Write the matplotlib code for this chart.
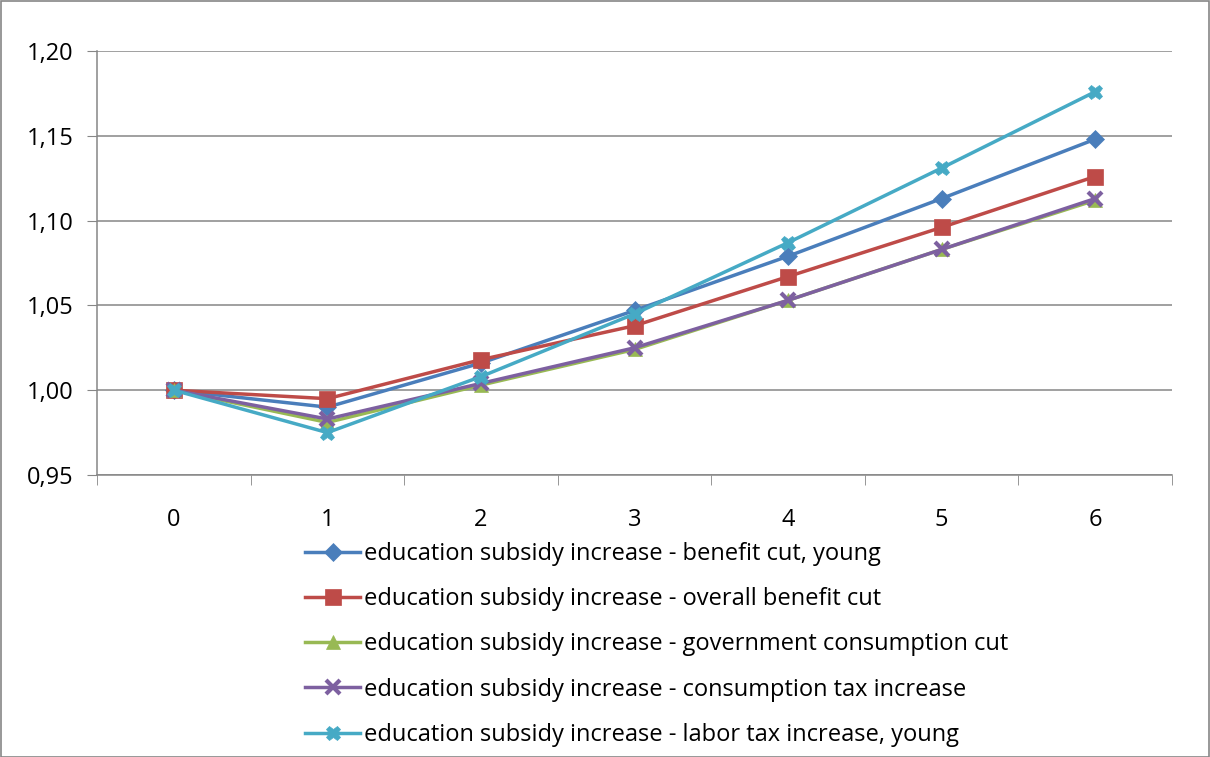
import matplotlib
matplotlib.use("Agg")
import matplotlib.pyplot as plt
from matplotlib.ticker import FuncFormatter, FixedLocator, MultipleLocator
from matplotlib.patches import Rectangle

periods = [0, 1, 2, 3, 4, 5, 6]
benefit_cut_young = [1.000, 0.990, 1.016, 1.047, 1.079, 1.113, 1.148]
overall_benefit_cut = [1.000, 0.995, 1.018, 1.038, 1.067, 1.096, 1.126]
gov_consumption_cut = [1.000, 0.981, 1.003, 1.024, 1.053, 1.083, 1.112]
consumption_tax = [1.000, 0.983, 1.004, 1.025, 1.053, 1.083, 1.113]
labor_tax_young = [1.000, 0.975, 1.008, 1.045, 1.087, 1.131, 1.176]

labels = [
    "education subsidy increase - benefit cut, young",
    "education subsidy increase - overall benefit cut",
    "education subsidy increase - government consumption cut",
    "education subsidy increase - consumption tax increase",
    "education subsidy increase - labor tax increase, young",
]
series = [benefit_cut_young, overall_benefit_cut, gov_consumption_cut,
          consumption_tax, labor_tax_young]
colors = ["#4A7EBB", "#BE4B48", "#98B954", "#7D60A0", "#46AAC5"]
markers = ["D", "s", "^", "x", "X"]
msizes = [9, 11, 10.5, 10.5, 10.5]

plt.rcParams["font.family"] = ["Open Sans", "DejaVu Sans"]

fig = plt.figure(figsize=(12.10, 7.57), dpi=100)
ax = fig.add_axes([97 / 1210, 1 - 475 / 757, (1172 - 97) / 1210, (475 - 51) / 757])

handles = []
for vals, lab, c, m, ms in zip(series, labels, colors, markers, msizes):
    mew = 3.0 if m == "x" else 0.5
    h, = ax.plot(periods, vals, color=c, lw=2.5, marker=m, ms=ms,
                 markerfacecolor=c, markeredgecolor=c, markeredgewidth=mew,
                 label=lab, zorder=3)
    handles.append(h)

grid_c = "#868686"
ax.set_xlim(-0.5, 6.5)
ax.set_ylim(0.95, 1.20)
ax.yaxis.set_major_locator(MultipleLocator(0.05))
ax.yaxis.set_major_formatter(FuncFormatter(lambda v, p: f"{v:.2f}".replace(".", ",")))
ax.grid(axis="y", color=grid_c, lw=1.1, zorder=1)
ax.set_axisbelow(True)

ax.set_xticks(periods)
ax.set_xticklabels([str(p) for p in periods])
ax.xaxis.set_minor_locator(FixedLocator([i - 0.5 for i in range(8)]))
ax.tick_params(axis="x", which="major", length=0, pad=24, labelsize=17)
ax.tick_params(axis="x", which="minor", length=7, color=grid_c, direction="out")
ax.tick_params(axis="y", length=7, color=grid_c, labelsize=17, pad=10)

for s in ("top", "right"):
    ax.spines[s].set_visible(False)
for s in ("left", "bottom"):
    ax.spines[s].set_color(grid_c)
    ax.spines[s].set_linewidth(1.1)

fig.legend(handles=handles, labels=labels, loc="upper left",
           bbox_to_anchor=(305 / 1210, 1 - 542 / 757), frameon=False,
           fontsize=17, handlelength=2.35, handletextpad=0.15, labelspacing=0.9,
           borderaxespad=0, borderpad=0)

fig.patches.append(Rectangle((0.5 / 1210, 0.5 / 757), 1 - 1.5 / 1210, 1 - 1.5 / 757,
                             transform=fig.transFigure, fill=False,
                             edgecolor=grid_c, lw=1.2))

fig.savefig("out.png", dpi=100)
